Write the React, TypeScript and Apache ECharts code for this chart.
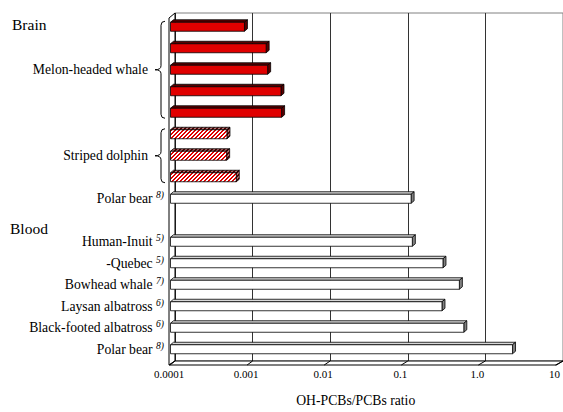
import React, { useEffect, useRef } from "react";
import * as echarts from "echarts";

// ---- data ----
const rowNames = [
  "", "", "Melon-headed whale", "", "",
  "", "Striped dolphin", "",
  "Polar bear",
  "",
  "Human-Inuit", "-Quebec", "Bowhead whale", "Laysan albatross", "Black-footed albatross", "Polar bear",
];
const footnotes = [
  "", "", "", "", "",
  "", "", "",
  "8)",
  "",
  "5)", "5)", "7)", "6)", "6)", "8)",
];
const groupOf = [
  "melon", "melon", "melon", "melon", "melon",
  "striped", "striped", "striped",
  "other",
  "none",
  "other", "other", "other", "other", "other", "other",
];
const ratios: (number | null)[] = [
  0.00091, 0.00174, 0.00182, 0.00271, 0.00276,
  0.00054, 0.000535, 0.000713,
  0.132,
  null,
  0.137, 0.342, 0.558, 0.332, 0.637, 2.73,
];
const tickLabels = ["0.0001", "0.001", "0.01", "0.1", "1.0", "10"];
const axisTitle = "OH-PCBs/PCBs ratio";
const tissueHeaders = [
  { text: "Brain", row: 0 },
  { text: "Blood", row: 9 },
];
const braceGroups = [
  { from: 0, to: 4 },
  { from: 5, to: 7 },
];

const FONT = "Liberation Serif";
const XMIN = 0.0001;
const XMAX = 10;

const Brace = echarts.graphic.extendShape({
  shape: { x: 0, y1: 0, y2: 0 },
  buildPath(ctx: any, s: any) {
    const xr = s.x;
    const xs = s.x - 4;
    const xt = s.x - 10;
    const ym = (s.y1 + s.y2) / 2;
    const r = 4;
    ctx.moveTo(xr, s.y1);
    ctx.quadraticCurveTo(xs, s.y1, xs, s.y1 + r);
    ctx.lineTo(xs, ym - r);
    ctx.quadraticCurveTo(xs, ym, xt, ym);
    ctx.quadraticCurveTo(xs, ym, xs, ym + r);
    ctx.lineTo(xs, s.y2 - r);
    ctx.quadraticCurveTo(xs, s.y2, xr, s.y2);
  },
});
echarts.graphic.registerShape("brace", Brace);

function makeHatch(bg: string, fg: string) {
  const cv = document.createElement("canvas");
  cv.width = 4;
  cv.height = 4;
  const c = cv.getContext("2d")!;
  c.fillStyle = bg;
  c.fillRect(0, 0, 4, 4);
  c.fillStyle = fg;
  for (let x = 0; x < 4; x++) {
    for (let y = 0; y < 4; y++) {
      if ((x + y) % 4 < 2) c.fillRect(x, y, 1, 1);
    }
  }
  return { image: cv, repeat: "repeat", imageWidth: 4, imageHeight: 4 } as any;
}

export default function App() {
  const ref = useRef<HTMLDivElement>(null);

  useEffect(() => {
    if (!ref.current) return;
    const chart = echarts.init(ref.current, null, { renderer: "svg" });

    const hatchFront = makeHatch("#ffffff", "#e00000");
    const hatchTop = makeHatch("#b07070", "#500000");

    const ids = rowNames.map((_, i) => String(i));
    const barData = ratios
      .map((v, i) => (v == null ? null : [v, i]))
      .filter((d) => d != null);

    const fills: Record<string, { front: any; top: any; side: any }> = {
      melon: { front: "#e00000", top: "#5a0000", side: "#5a0000" },
      striped: { front: hatchFront, top: hatchTop, side: hatchTop },
      other: { front: "#ffffff", top: "#d8d8d8", side: "#808080" },
    };

    chart.setOption({
      animation: false,
      backgroundColor: "#ffffff",
      grid: [
        {
          left: 175, right: 0, top: 13, height: 348,
          show: true, borderColor: "#808080", borderWidth: 1, backgroundColor: "#ffffff",
        },
        { left: 169, width: 388, top: 16, height: 348 },
      ],
      xAxis: [
        {
          gridIndex: 0, type: "log", logBase: 10, min: XMIN, max: XMAX,
          axisLine: { show: false }, axisTick: { show: false }, axisLabel: { show: false },
          splitLine: { show: true, lineStyle: { color: "#333333", width: 1 } },
          minorSplitLine: { show: false },
        },
        {
          gridIndex: 1, type: "log", logBase: 10, min: XMIN, max: XMAX,
          axisLine: { show: false }, axisTick: { show: false },
          splitLine: { show: false },
          axisLabel: {
            color: "#000", fontFamily: FONT, fontSize: 11, margin: 8,
            formatter: (val: number) => {
              const k = Math.round(Math.log10(val)) + 4;
              return tickLabels[k] ?? "";
            },
          },
          name: axisTitle,
          nameLocation: "middle",
          nameGap: 33,
          nameTextStyle: { color: "#000", fontFamily: FONT, fontSize: 13.7, padding: [0, 12, 0, 0] },
        },
      ],
      yAxis: [
        { gridIndex: 0, type: "category", data: ids, inverse: true, show: false },
        {
          gridIndex: 1, type: "category", data: ids, inverse: true,
          axisLine: { show: false }, axisTick: { show: false }, splitLine: { show: false },
          axisLabel: {
            interval: 0, margin: 5, color: "#000", fontFamily: FONT, fontSize: 13.7,
            formatter: (_v: string, i: number) => {
              const name = rowNames[i];
              if (!name) return "";
              const fn = footnotes[i];
              if (fn) return `{n|${name}} {s|${fn}}`;
              return `{g|${name}}`;
            },
            rich: {
              n: { fontFamily: FONT, fontSize: 13.7, color: "#000" },
              g: { fontFamily: FONT, fontSize: 13.7, color: "#000", padding: [0, 16, 0, 0] },
              s: { fontFamily: FONT, fontSize: 9.5, fontStyle: "italic", color: "#000", padding: [0, 0, 7, 0] },
            },
          },
        },
      ],
      series: [
        {
          type: "custom",
          xAxisIndex: 1,
          yAxisIndex: 1,
          z: 10,
          encode: { x: 0, y: 1 },
          data: barData,
          renderItem: (_params: any, api: any) => {
            const v = api.value(0);
            const idx = api.value(1);
            const s = api.coord([XMIN, idx]);
            const e = api.coord([v, idx]);
            const h = 9;
            const dx = 3;
            const dy = 2.5;
            const x0 = s[0] + 1.5;
            const x1 = e[0] + 1.5;
            const y0 = s[1] - h / 2;
            const y1 = s[1] + h / 2;
            const f = fills[groupOf[idx]] || fills.other;
            const stroke = { stroke: "#000", lineWidth: 0.8 };
            return {
              type: "group",
              children: [
                {
                  type: "polygon",
                  shape: { points: [[x0, y0], [x0 + dx, y0 - dy], [x1 + dx, y0 - dy], [x1, y0]] },
                  style: { fill: f.top, ...stroke },
                },
                {
                  type: "polygon",
                  shape: { points: [[x1, y0], [x1 + dx, y0 - dy], [x1 + dx, y1 - dy], [x1, y1]] },
                  style: { fill: f.side, ...stroke },
                },
                {
                  type: "rect",
                  shape: { x: x0, y: y0, width: x1 - x0, height: h },
                  style: { fill: f.front, ...stroke },
                },
              ],
            };
          },
        },
      ],
    });

    // decorations positioned through the axes
    const bx = (v: number) => chart.convertToPixel({ xAxisIndex: 0 }, v) as number;
    const fx = (v: number) => chart.convertToPixel({ xAxisIndex: 1 }, v) as number;
    const fy = (i: number) => chart.convertToPixel({ yAxisIndex: 1 }, i) as number;
    const backBottom = 361;
    const frontBottom = 365;
    const backTop = 13;

    const graphics: any[] = [];
    // left wall
    graphics.push({
      type: "polygon", z: 5,
      shape: { points: [[bx(XMIN), backTop], [bx(XMIN), backBottom], [fx(XMIN), frontBottom], [fx(XMIN), backTop + 5]] },
      style: { fill: "#ffffff", stroke: "#000", lineWidth: 1 },
    });
    // floor
    graphics.push({
      type: "polygon", z: 5,
      shape: { points: [[bx(XMIN), backBottom], [bx(XMAX), backBottom], [fx(XMAX) + 2, frontBottom], [fx(XMIN), frontBottom]] },
      style: { fill: "#ffffff", stroke: "#000", lineWidth: 1 },
    });
    tickLabels.forEach((_, k) => {
      const v = Math.pow(10, k - 4);
      graphics.push({
        type: "line", z: 6,
        shape: { x1: bx(v), y1: backBottom, x2: fx(v) + 1, y2: frontBottom },
        style: { stroke: "#000", lineWidth: 1 },
      });
    });
    // braces
    braceGroups.forEach((g) => {
      graphics.push({
        type: "brace", z: 6,
        shape: { x: 165, y1: fy(g.from) - 5.5, y2: fy(g.to) + 5.5 },
        style: { fill: "none", stroke: "#000", lineWidth: 1 },
      });
    });
    // tissue headers
    tissueHeaders.forEach((t, i) => {
      graphics.push({
        type: "text", z: 6,
        x: i === 0 ? 12 : 10,
        y: fy(t.row) + (i === 0 ? -2 : 8),
        style: {
          text: t.text, fontFamily: FONT, fontSize: 15.5, fill: "#000",
          verticalAlign: "middle", align: "left",
        },
      });
    });
    chart.setOption({ graphic: graphics });

    return () => chart.dispose();
  }, []);

  return (
    <div
      ref={ref}
      style={{ position: "fixed", left: 0, top: 0, width: 563, height: 412, background: "#fff" }}
    />
  );
}
